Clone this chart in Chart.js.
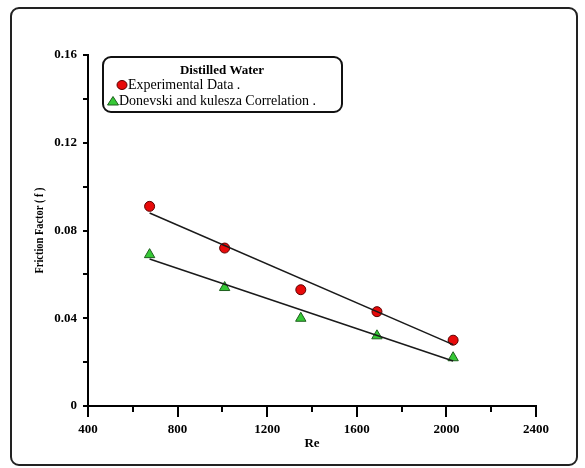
<!DOCTYPE html>
<html>
<head>
<meta charset="utf-8">
<script src="https://cdn.jsdelivr.net/npm/chart.js@4.4.1/dist/chart.umd.min.js"></script>
<style>
  html, body { margin: 0; padding: 0; background: #ffffff; }
  #wrap { position: relative; width: 585px; height: 468px; }
  #frame {
    position: absolute; left: 10px; top: 7px; width: 568px; height: 459px;
    box-sizing: border-box; border: 2px solid #222; border-radius: 9px;
    pointer-events: none;
  }
  canvas { position: absolute; left: 0; top: 0; }
</style>
</head>
<body>
<div id="wrap">
  <canvas id="chart" width="585" height="468"></canvas>
  <div id="frame"></div>
</div>
<script>
// Reynolds numbers of the test runs
const reynolds = [675, 1010, 1350, 1690, 2030];
// Measured friction factor (distilled water)
const experimentalF = [0.091, 0.072, 0.053, 0.043, 0.030];
// Friction factor from the Donevski and Kulesza correlation
const correlationF = [0.069, 0.054, 0.040, 0.032, 0.022];

// Straight trend lines through each series (end points)
const expTrendRe = [675, 2030];
const expTrendF = [0.088, 0.028];
const corTrendRe = [675, 2030];
const corTrendF = [0.067, 0.0205];

// Axis ticks
const xTickLabels = ['400', '800', '1200', '1600', '2000', '2400'];
const xMinorTicks = [600, 1000, 1400, 1800, 2200];
const yTickLabels = ['0', '0.04', '0.08', '0.12', '0.16'];
const yMinorTicks = [0.02, 0.06, 0.10, 0.14];

const yAxisTitle = 'Friction Factor ( f )';
const legendTitle = 'Distilled Water';
const seriesNames = ['Experimental Data .', 'Donevski and kulesza Correlation .'];

const SERIF = "'Liberation Serif', 'Times New Roman', serif";
const RED = '#e80a0a', RED_EDGE = '#5a0000';
const GREEN = '#36c936', GREEN_EDGE = '#1d5e1d';

const toPoints = (xs, ys) => xs.map((x, i) => ({ x: x, y: ys[i] }));

// Tick marks drawn outside the plot: y ticks to the left, x ticks below
const tickMarks = {
  id: 'tickMarks',
  afterDraw(chart) {
    const { ctx, scales: { x, y } } = chart;
    const area = chart.chartArea;
    ctx.save();
    ctx.strokeStyle = '#000';
    ctx.lineWidth = 2;
    const xMajor = xTickLabels.map(Number);
    xMajor.concat(xMinorTicks).forEach(v => {
      const px = Math.round(x.getPixelForValue(v));
      const len = xMajor.includes(v) ? 11 : 6;
      ctx.beginPath();
      ctx.moveTo(px, area.bottom);
      ctx.lineTo(px, area.bottom + len);
      ctx.stroke();
    });
    yTickLabels.map(Number).concat(yMinorTicks).forEach(v => {
      const py = Math.round(y.getPixelForValue(v));
      ctx.beginPath();
      ctx.moveTo(area.left, py);
      ctx.lineTo(area.left - 5, py);
      ctx.stroke();
    });
    ctx.restore();
  }
};

// Rotated, narrow y-axis title centred on the plot height
const yTitle = {
  id: 'yTitle',
  afterDraw(chart) {
    const { ctx, chartArea: area } = chart;
    ctx.save();
    ctx.translate(40, (area.top + area.bottom) / 2);
    ctx.rotate(-Math.PI / 2);
    ctx.scale(0.8, 1);
    ctx.font = 'bold 13px ' + SERIF;
    ctx.fillStyle = '#000';
    ctx.textAlign = 'center';
    ctx.textBaseline = 'middle';
    ctx.fillText(yAxisTitle, 0, 0);
    ctx.restore();
  }
};

// Boxed legend with a title line
const boxLegend = {
  id: 'boxLegend',
  afterDraw(chart) {
    const ctx = chart.ctx;
    ctx.save();
    const bx = 103, by = 57, bw = 239, bh = 55, r = 8;
    ctx.beginPath();
    ctx.moveTo(bx + r, by);
    ctx.arcTo(bx + bw, by, bx + bw, by + bh, r);
    ctx.arcTo(bx + bw, by + bh, bx, by + bh, r);
    ctx.arcTo(bx, by + bh, bx, by, r);
    ctx.arcTo(bx, by, bx + bw, by, r);
    ctx.closePath();
    ctx.fillStyle = '#fff';
    ctx.fill();
    ctx.lineWidth = 2;
    ctx.strokeStyle = '#111';
    ctx.stroke();

    ctx.fillStyle = '#000';
    ctx.textBaseline = 'middle';
    ctx.textAlign = 'center';
    ctx.font = 'bold 13px ' + SERIF;
    ctx.fillText(legendTitle, 222, 71);

    // circle marker
    ctx.beginPath();
    ctx.ellipse(122, 85, 5, 4.5, 0, 0, Math.PI * 2);
    ctx.fillStyle = RED;
    ctx.fill();
    ctx.lineWidth = 1;
    ctx.strokeStyle = RED_EDGE;
    ctx.stroke();

    // triangle marker
    ctx.beginPath();
    ctx.moveTo(113, 96.5);
    ctx.lineTo(118.5, 105);
    ctx.lineTo(107.5, 105);
    ctx.closePath();
    ctx.fillStyle = GREEN;
    ctx.fill();
    ctx.strokeStyle = GREEN_EDGE;
    ctx.stroke();

    ctx.fillStyle = '#000';
    ctx.textAlign = 'left';
    ctx.font = '14px ' + SERIF;
    ctx.fillText(seriesNames[0], 128, 85);
    ctx.fillText(seriesNames[1], 119, 101);
    ctx.restore();
  }
};

new Chart(document.getElementById('chart'), {
  type: 'scatter',
  data: {
    datasets: [
      {
        label: seriesNames[0] + ' trend',
        type: 'line',
        data: toPoints(expTrendRe, expTrendF),
        borderColor: '#1a1a1a',
        borderWidth: 1.5,
        pointRadius: 0,
        fill: false,
        order: 0
      },
      {
        label: seriesNames[1] + ' trend',
        type: 'line',
        data: toPoints(corTrendRe, corTrendF),
        borderColor: '#1a1a1a',
        borderWidth: 1.5,
        pointRadius: 0,
        fill: false,
        order: 0
      },
      {
        label: seriesNames[0],
        data: toPoints(reynolds, experimentalF),
        pointStyle: 'circle',
        pointRadius: 5,
        backgroundColor: RED,
        borderColor: RED_EDGE,
        borderWidth: 1,
        order: 1
      },
      {
        label: seriesNames[1],
        data: toPoints(reynolds, correlationF),
        pointStyle: 'triangle',
        pointRadius: 6,
        backgroundColor: GREEN,
        borderColor: GREEN_EDGE,
        borderWidth: 1,
        order: 1
      }
    ]
  },
  options: {
    responsive: false,
    devicePixelRatio: 1,
    animation: false,
    layout: { padding: { left: 0, right: 49, top: 55, bottom: 0 } },
    plugins: {
      legend: { display: false },
      tooltip: { enabled: false }
    },
    scales: {
      x: {
        type: 'linear',
        min: 400,
        max: 2400,
        afterFit(scale) { scale.height = 62; },
        grid: { display: false, drawTicks: false },
        border: { display: true, color: '#000', width: 2 },
        ticks: {
          stepSize: 400,
          padding: 16,
          color: '#000',
          font: { family: SERIF, size: 13, weight: 'bold' },
          maxRotation: 0,
          callback: (v) => {
            const i = xTickLabels.indexOf(String(v));
            return i >= 0 ? xTickLabels[i] : '';
          }
        },
        title: {
          display: true,
          text: 'Re',
          color: '#000',
          font: { family: SERIF, size: 13, weight: 'bold' },
          padding: { top: 0, bottom: 17 }
        }
      },
      y: {
        type: 'linear',
        min: 0,
        max: 0.16,
        afterFit(scale) { scale.width = 88; },
        grid: { display: false, drawTicks: false },
        border: { display: true, color: '#000', width: 2 },
        ticks: {
          stepSize: 0.04,
          padding: 11,
          color: '#000',
          font: { family: SERIF, size: 13, weight: 'bold' },
          callback: (v) => yTickLabels[Math.round(v / 0.04)]
        },
        title: { display: false }
      }
    }
  },
  plugins: [tickMarks, yTitle, boxLegend]
});
</script>
</body>
</html>
